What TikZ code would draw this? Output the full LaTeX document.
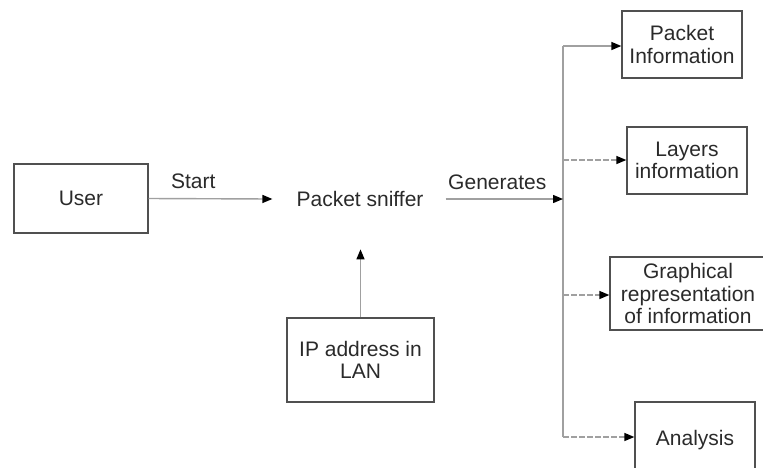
\documentclass[tikz,border=0pt]{standalone}
\usepackage{fontspec}
\setmainfont{Liberation Sans}
\usetikzlibrary{arrows.meta,calc}
\definecolor{txt}{HTML}{2A2A2A}
\definecolor{boxc}{HTML}{505050}
\definecolor{linec}{HTML}{A0A0A0}
\tikzset{
  box/.style={draw=boxc,line width=1.3pt,rectangle,align=center,text=txt,inner sep=0pt},
  plain/.style={text=txt,inner sep=0pt},
  conn/.style={draw=linec,line width=1.4pt,-{Triangle[length=10pt,width=8pt,fill=black,color=black]}},
  dconn/.style={conn,dash pattern=on 6pt off 2pt},
  lbl/.style={text=txt,inner sep=0pt}
}
\begin{document}
\begin{tikzpicture}[x=1pt,y=-1pt,font=\fontsize{21}{22.5}\selectfont]
\useasboundingbox (0,0) rectangle (763,467);
\clip (0,0) rectangle (763,467);
\node[box,minimum width=134pt,minimum height=69pt] (user) at (81,198.5) {User};
\node[plain] (sniffer) at (360,199) {Packet sniffer};
\node[box,minimum width=147pt,minimum height=84pt] (ip) at (360.5,360) {IP address in\\LAN};
\node[box,minimum width=120pt,minimum height=67pt] (pinfo) at (682,44.5) {Packet\\Information};
\node[box,minimum width=120pt,minimum height=67pt] (layers) at (687,160.5) {Layers\\information};
\node[box,minimum width=156pt,minimum height=73pt] (graph) at (688,293.5) {Graphical\\representation\\of information};
\node[box,minimum width=120pt,minimum height=76pt] (analysis) at (695,440) {Analysis};
\coordinate (j) at (563,199);
\coordinate (jtop) at (563,46);
\coordinate (jbot) at (563,437);
\draw[draw=linec,line width=1.4pt] (jtop) -- (jbot);
\draw[conn] (user.east) -- node[lbl,pos=0.36,above=9pt]{Start} ($(sniffer.west)+(-24,0)$);
\draw[conn] ($(sniffer.east)+(22,0)$) -- node[lbl,pos=0.44,above=9pt]{Generates} (j);
\draw[conn] (jtop) -- (jtop -| pinfo.west);
\draw[dconn] (563,160) -- (layers.west |- 0,160);
\draw[dconn] (563,295) -- (graph.west |- 0,295);
\draw[dconn] (jbot) -- (analysis.west |- jbot);
\draw[conn] (ip.north) -- ($(ip.north)+(0,-68)$);
\end{tikzpicture}
\end{document}
